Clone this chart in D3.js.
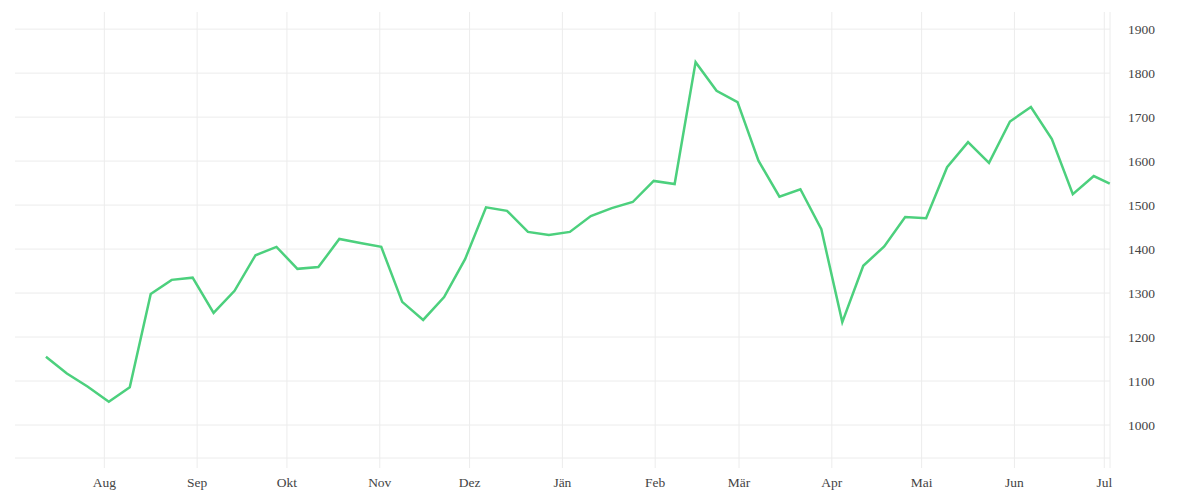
<!DOCTYPE html>
<html>
<head>
<meta charset="utf-8">
<script src="https://cdn.jsdelivr.net/npm/d3@7"></script>
<style>
  body { margin: 0; background: #fff; }
  text { font-family: "Liberation Serif", "DejaVu Serif", serif; fill: #444; }
</style>
</head>
<body>
<div id="chart"></div>
<script>
// weekly values, first point Jul 12 2022, last one is the partial week at the right edge
const first_date = new Date(2022, 6, 12, 12)
const last_date = new Date(2023, 6, 2, 20)
const values = [
  1155, 1117, 1087, 1053, 1086, 1298, 1330, 1335, 1255, 1305,
  1386, 1405, 1355, 1359, 1423, 1414, 1405, 1280, 1239, 1291,
  1377, 1495, 1487, 1439, 1432, 1439, 1475, 1493, 1507, 1555,
  1548, 1825, 1760, 1734, 1601, 1519, 1536, 1445, 1234, 1362,
  1406, 1473, 1470, 1586, 1643, 1596, 1690, 1723, 1650, 1525,
  1566, 1549
]
const month_names = ["Jän", "Feb", "Mär", "Apr", "Mai", "Jun", "Jul", "Aug", "Sep", "Okt", "Nov", "Dez"]
const y_ticks = [1000, 1100, 1200, 1300, 1400, 1500, 1600, 1700, 1800, 1900]

const dates = values.map((v, i) => i < values.length - 1 ? d3.timeDay.offset(first_date, i * 7) : last_date)
const data = values.map((v, i) => ({ "date": dates[i], "value": v }))

const dimensions = { "width": 1200, "height": 500 }
const margin = { "top": 12, "left": 15, "right": 90, "bottom": 42 }
const inner_w = dimensions.width - margin.left - margin.right
const inner_h = dimensions.height - margin.top - margin.bottom

const x = d3.scaleTime()
  .domain([new Date(2022, 6, 2, 4), new Date(2023, 6, 2, 22)])
  .range([0, inner_w])
const y = d3.scaleLinear().domain([925, 1939]).range([inner_h, 0])

const svg = d3.select("#chart").append("svg")
  .attr("width", dimensions.width).attr("height", dimensions.height)
const g = svg.append("g").attr("transform", `translate(${margin.left}, ${margin.top})`)

const grid_color = "#ececec"

// horizontal grid
g.selectAll(".hgrid").data(y_ticks).join("line")
  .attr("x1", 0).attr("x2", inner_w)
  .attr("y1", d => y(d)).attr("y2", d => y(d))
  .attr("stroke", grid_color).attr("stroke-width", 1)
g.append("line").attr("x1", 0).attr("x2", inner_w)
  .attr("y1", inner_h).attr("y2", inner_h)
  .attr("stroke", grid_color)

// month grid, running down into tick marks
const months = x.ticks(d3.timeMonth.every(1)).filter(d => x(d) > 1)
g.selectAll(".vgrid").data(months).join("line")
  .attr("x1", d => x(d)).attr("x2", d => x(d))
  .attr("y1", 0).attr("y2", inner_h + 10)
  .attr("stroke", grid_color)
g.append("line").attr("x1", inner_w).attr("x2", inner_w)
  .attr("y1", 0).attr("y2", inner_h + 10)
  .attr("stroke", grid_color)

// labels
g.selectAll(".xlab").data(months).join("text")
  .attr("x", d => x(d)).attr("y", inner_h + 29)
  .attr("text-anchor", "middle")
  .style("font-size", "13.5px")
  .text(d => month_names[d.getMonth()])

g.selectAll(".ylab").data(y_ticks).join("text")
  .attr("x", inner_w + 18).attr("y", d => y(d) + 5)
  .style("font-size", "13.5px")
  .text(d => d)

const line = d3.line().x(d => x(d.date)).y(d => y(d.value))
g.append("path").datum(data)
  .attr("d", line)
  .attr("fill", "none")
  .attr("stroke", "#4cd07d")
  .attr("stroke-width", 2.5)
  .attr("stroke-linejoin", "miter")
</script>
</body>
</html>
